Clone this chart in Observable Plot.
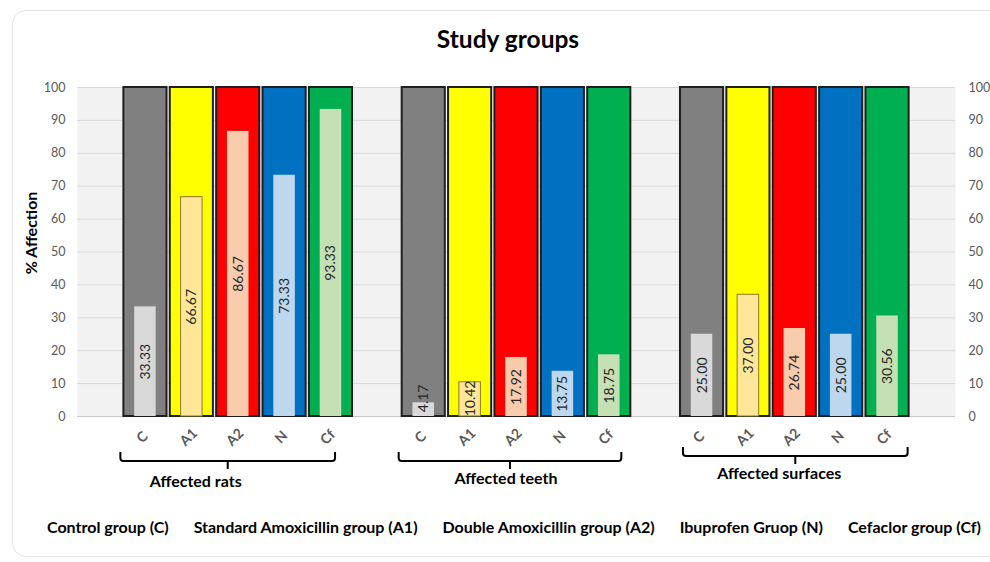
<!DOCTYPE html>
<html>
<head>
<meta charset="utf-8">
<script src="https://cdn.jsdelivr.net/npm/d3@7"></script>
<script src="https://cdn.jsdelivr.net/npm/@observablehq/plot@0.6"></script>
<style>
  html, body { margin: 0; padding: 0; background: #ffffff; width: 990px; height: 562px; overflow: hidden; font-family: Lato, "Open Sans", sans-serif; }
  #card { position: absolute; left: 12px; top: 10px; width: 1000px; height: 547px; border: 1px solid #e4e4e4; border-radius: 14px; box-sizing: border-box; }
  #title { position: absolute; left: 12px; width: 992px; top: 24px; text-align: center; font: bold 24.5px Lato, sans-serif; color: #000; line-height: 30px; }
  #chart { position: absolute; left: 0; top: 70px; }
  #legend { position: absolute; left: 47px; width: 934px; top: 517px; display: flex; justify-content: space-between; font: bold 16px Lato, sans-serif; color: #000; white-space: nowrap; line-height: 20px; }
</style>
</head>
<body>
<div id="card"></div>
<div id="title">Study groups</div>
<div id="chart"></div>
<div id="legend"></div>
<script>
// ---- data ----
const measures = ["Affected rats", "Affected teeth", "Affected surfaces"];
const groupCodes = ["C", "A1", "A2", "N", "Cf"];
const groupNames = ["Control group (C)", "Standard Amoxicillin group (A1)", "Double Amoxicillin group (A2)", "Ibuprofen Gruop (N)", "Cefaclor group (Cf)"];
const ratsValues = [33.33, 66.67, 86.67, 73.33, 93.33];
const teethValues = [4.17, 10.42, 17.92, 13.75, 18.75];
const surfacesValues = [25.00, 37.00, 26.74, 25.00, 30.56];
const totalValue = 100;
const yTicks = [0, 10, 20, 30, 40, 50, 60, 70, 80, 90, 100];
const yLabel = "% Affection";

// ---- styles ----
const outerColors = ["#808080", "#ffff00", "#ff0000", "#0070c0", "#00b050"];
const innerColors = ["#d9d9d9", "#ffe699", "#f8cbad", "#bdd7ee", "#c5e0b4"];
const innerStrokes = ["none", "#8a7a2a", "none", "none", "none"];
// brace layout tweaks per measure (px): left/right adjust, vertical top, label shift
const braceLayout = [
  {l: -3, r: -17, top: 382, lx: -32, ly: 413},
  {l: -3, r: -9, top: 382, lx: -4, ly: 410},
  {l: 3, r: -1, top: 377, lx: -16, ly: 405}
];

const seriesValues = [ratsValues, teethValues, surfacesValues];
const table = [];
const slots = ["pad0"];
measures.forEach((m, mi) => {
  groupCodes.forEach((g, gi) => {
    const key = m + "|" + g;
    slots.push(key);
    table.push({slot: key, measure: m, code: g, value: seriesValues[mi][gi], total: totalValue,
      outer: outerColors[gi], inner: innerColors[gi], innerStroke: innerStrokes[gi]});
  });
  slots.push("pad" + (mi + 1));
});

const axisColor = "#595959";
const chart = Plot.plot({
  width: 990,
  height: 430,
  marginLeft: 77,
  marginRight: 35,
  marginTop: 17,
  marginBottom: 84,
  style: {fontFamily: "Lato, 'Open Sans', sans-serif", background: "transparent", overflow: "visible"},
  x: {type: "band", domain: slots, paddingInner: 0.07, paddingOuter: 0, round: false, axis: null},
  y: {domain: [0, 100], axis: null},
  marks: [
    Plot.frame({fill: "#f2f2f2", stroke: "none"}),
    Plot.gridY(yTicks, {stroke: "#d9d9d9", strokeOpacity: 1}),
    Plot.ruleY([0], {stroke: "#c8c8c8", strokeWidth: 1}),
    Plot.axisY({ticks: yTicks, anchor: "left", tickSize: 0, tickPadding: 12, fontSize: 12.5, fill: axisColor, label: null}),
    Plot.axisY({ticks: yTicks, anchor: "right", tickSize: 0, tickPadding: 13, fontSize: 12.5, fill: axisColor, label: null}),
    Plot.barY(table, {x: "slot", y: "total", fill: "outer", stroke: "#1f1f1f", strokeWidth: 2}),
    Plot.barY(table, {x: "slot", y: "value", fill: "inner", stroke: "innerStroke", strokeWidth: 1, insetLeft: 10.8, insetRight: 10.8}),
    Plot.text(table, {x: "slot", y: d => Math.max(d.value / 2, 5.5), text: d => d.value.toFixed(2), rotate: -90, fontSize: 14, fill: "#262626"}),
    Plot.text(table, {x: "slot", text: "code", frameAnchor: "bottom", dy: 24, rotate: -45, fontSize: 14, fontWeight: "bold", fill: axisColor, textAnchor: "middle"})
  ]
});
document.getElementById("chart").appendChild(chart);

const svg = d3.select(chart);
// y-axis title
svg.append("text")
  .attr("transform", "translate(33,163) rotate(-90)")
  .attr("text-anchor", "middle").attr("dominant-baseline", "middle")
  .attr("font-size", 16).attr("font-weight", "bold").attr("fill", "#000").text(yLabel);

// braces and measure labels, positioned with the chart's x scale
const xs = chart.scale("x");
const g = svg.append("g");
measures.forEach((m, mi) => {
  const L = braceLayout[mi];
  const x0 = xs.apply(m + "|" + groupCodes[0]) + L.l;
  const x1 = xs.apply(m + "|" + groupCodes[groupCodes.length - 1]) + xs.bandwidth + L.r;
  const mid = (x0 + x1) / 2;
  const y0 = L.top, y1 = L.top + 9, y2 = L.top + 17;
  g.append("path")
    .attr("d", `M${x0},${y0} L${x0},${y1 - 3} Q${x0},${y1} ${x0 + 3},${y1} L${x1 - 3},${y1} Q${x1},${y1} ${x1},${y1 - 3} L${x1},${y0} M${mid},${y1} L${mid},${y2}`)
    .attr("fill", "none").attr("stroke", "#000").attr("stroke-width", 2);
  g.append("text")
    .attr("x", mid + L.lx).attr("y", L.ly).attr("text-anchor", "middle").attr("dominant-baseline", "middle")
    .attr("font-size", 16).attr("font-weight", "bold").attr("fill", "#000").text(m);
});

// legend
const legend = d3.select("#legend");
groupNames.forEach(n => legend.append("span").text(n));
</script>
</body>
</html>
